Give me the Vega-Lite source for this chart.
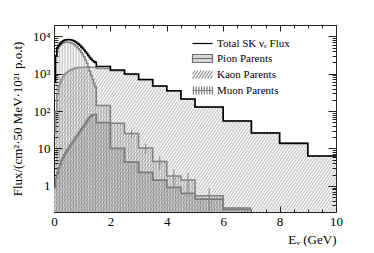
{
"$schema":"https://vega.github.io/schema/vega-lite/v6.json",
"width":282,"height":187,"autosize":"none",
"padding":{"left":54,"top":25,"right":38,"bottom":41},
"background":"white",
"config":{"font":"Liberation Serif","view":{"stroke":null},"axis":{"grid":false,"labelFont":"Liberation Serif","titleFont":"Liberation Serif","labelColor":"#000","titleColor":"#000","labelFontSize":13,"titleFontSize":13,"titleFontWeight":"normal","tickColor":"#222","domainColor":"#222","tickWidth":1,"domainWidth":1,"labelFlush":false,"labelOverlap":false,"zindex":1}},
"datasets":{
"total":[{"e":0,"v":600},{"e":0.05,"v":3000},{"e":0.1,"v":4900},{"e":0.15,"v":5700},{"e":0.2,"v":6450},{"e":0.25,"v":7000},{"e":0.3,"v":7450},{"e":0.35,"v":7800},{"e":0.4,"v":8000},{"e":0.45,"v":8100},{"e":0.5,"v":8150},{"e":0.55,"v":8100},{"e":0.6,"v":7950},{"e":0.65,"v":7700},{"e":0.7,"v":7400},{"e":0.75,"v":7000},{"e":0.8,"v":6600},{"e":0.85,"v":6150},{"e":0.9,"v":5700},{"e":0.95,"v":5200},{"e":1.0,"v":4750},{"e":1.05,"v":4300},{"e":1.1,"v":3850},{"e":1.15,"v":3450},{"e":1.2,"v":3050},{"e":1.25,"v":2700},{"e":1.3,"v":2450},{"e":1.35,"v":2250},{"e":1.4,"v":2100},{"e":1.45,"v":2000},{"e":1.5,"v":1550},{"e":2.0,"v":1250},{"e":2.5,"v":980},{"e":3.0,"v":700},{"e":3.5,"v":468},{"e":4.0,"v":350},{"e":4.5,"v":210},{"e":5.0,"v":128},{"e":6.0,"v":54},{"e":7.0,"v":26},{"e":8.0,"v":13.7},{"e":9.0,"v":6.3},{"e":10.0,"v":6.3}],
"kaon":[{"e":0,"v":25},{"e":0.05,"v":100},{"e":0.1,"v":280},{"e":0.15,"v":450},{"e":0.2,"v":580},{"e":0.25,"v":720},{"e":0.3,"v":830},{"e":0.35,"v":930},{"e":0.4,"v":1030},{"e":0.45,"v":1110},{"e":0.5,"v":1180},{"e":0.55,"v":1240},{"e":0.6,"v":1300},{"e":0.65,"v":1340},{"e":0.7,"v":1380},{"e":0.75,"v":1410},{"e":0.8,"v":1440},{"e":0.85,"v":1455},{"e":0.9,"v":1465},{"e":0.95,"v":1470},{"e":1.0,"v":1475},{"e":1.05,"v":1475},{"e":1.1,"v":1475},{"e":1.15,"v":1475},{"e":1.2,"v":1475},{"e":1.25,"v":1475},{"e":1.3,"v":1475},{"e":1.35,"v":1475},{"e":1.4,"v":1475},{"e":1.45,"v":1475},{"e":1.5,"v":1380},{"e":2.0,"v":1190},{"e":2.5,"v":950},{"e":3.0,"v":685},{"e":3.5,"v":462},{"e":4.0,"v":346},{"e":4.5,"v":208},{"e":5.0,"v":127},{"e":6.0,"v":54},{"e":7.0,"v":26},{"e":8.0,"v":13.7},{"e":9.0,"v":6.3},{"e":10.0,"v":6.3}],
"muon":[{"e":0,"v":574},{"e":0.05,"v":2898},{"e":0.1,"v":4618},{"e":0.15,"v":5247},{"e":0.2,"v":5866},{"e":0.25,"v":6275},{"e":0.3,"v":6614},{"e":0.35,"v":6863},{"e":0.4,"v":6962},{"e":0.45,"v":6981},{"e":0.5,"v":6960},{"e":0.55,"v":6848},{"e":0.6,"v":6637},{"e":0.65,"v":6345},{"e":0.7,"v":6003},{"e":0.75,"v":5570},{"e":0.8,"v":5138},{"e":0.85,"v":4670},{"e":0.9,"v":4206},{"e":0.95,"v":3697},{"e":1.0,"v":3238},{"e":1.05,"v":2783},{"e":1.1,"v":2327},{"e":1.15,"v":1920},{"e":1.2,"v":1513},{"e":1.25,"v":1155},{"e":1.3,"v":899},{"e":1.35,"v":696},{"e":1.4,"v":545},{"e":1.45,"v":445},{"e":1.5,"v":141},{"e":2.0,"v":47},{"e":2.5,"v":25},{"e":3.0,"v":10.3},{"e":3.5,"v":4.5},{"e":4.0,"v":1.84},{"e":4.5,"v":1.43},{"e":5.0,"v":0.54},{"e":6.0,"v":0.256},{"e":7.0,"v":0.256}],
"pion":[{"e":0,"v":0.9},{"e":0.05,"v":1.6},{"e":0.1,"v":2.2},{"e":0.15,"v":3.0},{"e":0.2,"v":3.8},{"e":0.25,"v":4.8},{"e":0.3,"v":5.6},{"e":0.35,"v":6.8},{"e":0.4,"v":8.0},{"e":0.45,"v":9.2},{"e":0.5,"v":10.5},{"e":0.55,"v":12},{"e":0.6,"v":13.5},{"e":0.65,"v":15.5},{"e":0.7,"v":17.5},{"e":0.75,"v":20},{"e":0.8,"v":22.5},{"e":0.85,"v":25.5},{"e":0.9,"v":29},{"e":0.95,"v":33},{"e":1.0,"v":37},{"e":1.05,"v":42},{"e":1.1,"v":48},{"e":1.15,"v":55},{"e":1.2,"v":62},{"e":1.25,"v":70},{"e":1.3,"v":76},{"e":1.35,"v":79},{"e":1.4,"v":80},{"e":1.45,"v":80},{"e":1.5,"v":49},{"e":2.0,"v":10.1},{"e":2.5,"v":4.3},{"e":3.0,"v":2.3},{"e":3.5,"v":1.43},{"e":4.0,"v":0.91},{"e":4.5,"v":0.63},{"e":5.0,"v":0.44},{"e":6.0,"v":0.235},{"e":7.0,"v":0.235}],
"err":[{"e":2.75,"lo":19,"hi":31},{"e":3.25,"lo":7.1,"hi":13.5},{"e":3.75,"lo":2.7,"hi":6.3},{"e":4.25,"lo":0.94,"hi":2.74},{"e":4.75,"lo":0.63,"hi":2.23},{"e":5.5,"lo":0.22,"hi":0.86}]
},
"layer":[
{"data":{"name":"pion"},"mark":{"type":"area","interpolate":"step-after","fill":"#e2e2e2","clip":true},
 "encoding":{"x":{"field":"e","type":"quantitative","scale":{"domain":[0,10],"nice":false,"zero":false},"axis":{"orient":"bottom","values":[0,2,4,6,8,10],"ticks":false,"domain":false,"labelPadding":3,"title":"Eᵥ (GeV)","titleAnchor":"end","titlePadding":5}},
  "y":{"field":"v","type":"quantitative","stack":null,"scale":{"type":"log","domain":[0.2,20000],"nice":false},"axis":{"orient":"left","values":[1,10,100,1000,10000],"ticks":false,"domain":false,"labelPadding":4,"labelExpr":"datum.value==1?'1':datum.value==10?'10':datum.value==100?'10²':datum.value==1000?'10³':'10⁴'","title":"Flux/(cm²·50 MeV·10²¹ p.o.t)","titlePadding":8}},
  "y2":{"datum":0.2}}},
{"data":{"name":"kaon"},"mark":{"type":"area","interpolate":"step-after","clip":true,"fill":{"gradient":"linear","x1":0,"y1":0,"x2":1.2039,"y2":0.4326,"stops":[
{"offset":0,"color":"rgba(0,0,0,.23)"},{"offset":0.004,"color":"rgba(0,0,0,0)"},{"offset":0.008,"color":"rgba(0,0,0,.23)"},{"offset":0.012,"color":"rgba(0,0,0,0)"},{"offset":0.016,"color":"rgba(0,0,0,.23)"},{"offset":0.02,"color":"rgba(0,0,0,0)"},{"offset":0.024,"color":"rgba(0,0,0,.23)"},{"offset":0.028,"color":"rgba(0,0,0,0)"},{"offset":0.032,"color":"rgba(0,0,0,.23)"},{"offset":0.036,"color":"rgba(0,0,0,0)"},{"offset":0.04,"color":"rgba(0,0,0,.23)"},{"offset":0.044,"color":"rgba(0,0,0,0)"},{"offset":0.048,"color":"rgba(0,0,0,.23)"},{"offset":0.052,"color":"rgba(0,0,0,0)"},{"offset":0.056,"color":"rgba(0,0,0,.23)"},{"offset":0.06,"color":"rgba(0,0,0,0)"},{"offset":0.064,"color":"rgba(0,0,0,.23)"},{"offset":0.068,"color":"rgba(0,0,0,0)"},{"offset":0.072,"color":"rgba(0,0,0,.23)"},{"offset":0.076,"color":"rgba(0,0,0,0)"},{"offset":0.08,"color":"rgba(0,0,0,.23)"},{"offset":0.084,"color":"rgba(0,0,0,0)"},{"offset":0.088,"color":"rgba(0,0,0,.23)"},{"offset":0.092,"color":"rgba(0,0,0,0)"},{"offset":0.096,"color":"rgba(0,0,0,.23)"},{"offset":0.1,"color":"rgba(0,0,0,0)"},
{"offset":0.104,"color":"rgba(0,0,0,.23)"},{"offset":0.108,"color":"rgba(0,0,0,0)"},{"offset":0.112,"color":"rgba(0,0,0,.23)"},{"offset":0.116,"color":"rgba(0,0,0,0)"},{"offset":0.12,"color":"rgba(0,0,0,.23)"},{"offset":0.124,"color":"rgba(0,0,0,0)"},{"offset":0.128,"color":"rgba(0,0,0,.23)"},{"offset":0.132,"color":"rgba(0,0,0,0)"},{"offset":0.136,"color":"rgba(0,0,0,.23)"},{"offset":0.14,"color":"rgba(0,0,0,0)"},{"offset":0.144,"color":"rgba(0,0,0,.23)"},{"offset":0.148,"color":"rgba(0,0,0,0)"},{"offset":0.152,"color":"rgba(0,0,0,.23)"},{"offset":0.156,"color":"rgba(0,0,0,0)"},{"offset":0.16,"color":"rgba(0,0,0,.23)"},{"offset":0.164,"color":"rgba(0,0,0,0)"},{"offset":0.168,"color":"rgba(0,0,0,.23)"},{"offset":0.172,"color":"rgba(0,0,0,0)"},{"offset":0.176,"color":"rgba(0,0,0,.23)"},{"offset":0.18,"color":"rgba(0,0,0,0)"},{"offset":0.184,"color":"rgba(0,0,0,.23)"},{"offset":0.188,"color":"rgba(0,0,0,0)"},{"offset":0.192,"color":"rgba(0,0,0,.23)"},{"offset":0.196,"color":"rgba(0,0,0,0)"},{"offset":0.2,"color":"rgba(0,0,0,.23)"},{"offset":0.204,"color":"rgba(0,0,0,0)"},
{"offset":0.208,"color":"rgba(0,0,0,.23)"},{"offset":0.212,"color":"rgba(0,0,0,0)"},{"offset":0.216,"color":"rgba(0,0,0,.23)"},{"offset":0.22,"color":"rgba(0,0,0,0)"},{"offset":0.224,"color":"rgba(0,0,0,.23)"},{"offset":0.228,"color":"rgba(0,0,0,0)"},{"offset":0.232,"color":"rgba(0,0,0,.23)"},{"offset":0.236,"color":"rgba(0,0,0,0)"},{"offset":0.24,"color":"rgba(0,0,0,.23)"},{"offset":0.244,"color":"rgba(0,0,0,0)"},{"offset":0.248,"color":"rgba(0,0,0,.23)"},{"offset":0.252,"color":"rgba(0,0,0,0)"},{"offset":0.256,"color":"rgba(0,0,0,.23)"},{"offset":0.26,"color":"rgba(0,0,0,0)"},{"offset":0.264,"color":"rgba(0,0,0,.23)"},{"offset":0.268,"color":"rgba(0,0,0,0)"},{"offset":0.272,"color":"rgba(0,0,0,.23)"},{"offset":0.276,"color":"rgba(0,0,0,0)"},{"offset":0.28,"color":"rgba(0,0,0,.23)"},{"offset":0.284,"color":"rgba(0,0,0,0)"},{"offset":0.288,"color":"rgba(0,0,0,.23)"},{"offset":0.292,"color":"rgba(0,0,0,0)"},{"offset":0.296,"color":"rgba(0,0,0,.23)"},{"offset":0.3,"color":"rgba(0,0,0,0)"},
{"offset":0.304,"color":"rgba(0,0,0,.23)"},{"offset":0.308,"color":"rgba(0,0,0,0)"},{"offset":0.312,"color":"rgba(0,0,0,.23)"},{"offset":0.316,"color":"rgba(0,0,0,0)"},{"offset":0.32,"color":"rgba(0,0,0,.23)"},{"offset":0.324,"color":"rgba(0,0,0,0)"},{"offset":0.328,"color":"rgba(0,0,0,.23)"},{"offset":0.332,"color":"rgba(0,0,0,0)"},{"offset":0.336,"color":"rgba(0,0,0,.23)"},{"offset":0.34,"color":"rgba(0,0,0,0)"},{"offset":0.344,"color":"rgba(0,0,0,.23)"},{"offset":0.348,"color":"rgba(0,0,0,0)"},{"offset":0.352,"color":"rgba(0,0,0,.23)"},{"offset":0.356,"color":"rgba(0,0,0,0)"},{"offset":0.36,"color":"rgba(0,0,0,.23)"},{"offset":0.364,"color":"rgba(0,0,0,0)"},{"offset":0.368,"color":"rgba(0,0,0,.23)"},{"offset":0.372,"color":"rgba(0,0,0,0)"},{"offset":0.376,"color":"rgba(0,0,0,.23)"},{"offset":0.38,"color":"rgba(0,0,0,0)"},{"offset":0.384,"color":"rgba(0,0,0,.23)"},{"offset":0.388,"color":"rgba(0,0,0,0)"},{"offset":0.392,"color":"rgba(0,0,0,.23)"},{"offset":0.396,"color":"rgba(0,0,0,0)"},{"offset":0.4,"color":"rgba(0,0,0,.23)"},{"offset":0.404,"color":"rgba(0,0,0,0)"},
{"offset":0.408,"color":"rgba(0,0,0,.23)"},{"offset":0.412,"color":"rgba(0,0,0,0)"},{"offset":0.416,"color":"rgba(0,0,0,.23)"},{"offset":0.42,"color":"rgba(0,0,0,0)"},{"offset":0.424,"color":"rgba(0,0,0,.23)"},{"offset":0.428,"color":"rgba(0,0,0,0)"},{"offset":0.432,"color":"rgba(0,0,0,.23)"},{"offset":0.436,"color":"rgba(0,0,0,0)"},{"offset":0.44,"color":"rgba(0,0,0,.23)"},{"offset":0.444,"color":"rgba(0,0,0,0)"},{"offset":0.448,"color":"rgba(0,0,0,.23)"},{"offset":0.452,"color":"rgba(0,0,0,0)"},{"offset":0.456,"color":"rgba(0,0,0,.23)"},{"offset":0.46,"color":"rgba(0,0,0,0)"},{"offset":0.464,"color":"rgba(0,0,0,.23)"},{"offset":0.468,"color":"rgba(0,0,0,0)"},{"offset":0.472,"color":"rgba(0,0,0,.23)"},{"offset":0.476,"color":"rgba(0,0,0,0)"},{"offset":0.48,"color":"rgba(0,0,0,.23)"},{"offset":0.484,"color":"rgba(0,0,0,0)"},{"offset":0.488,"color":"rgba(0,0,0,.23)"},{"offset":0.492,"color":"rgba(0,0,0,0)"},{"offset":0.496,"color":"rgba(0,0,0,.23)"},{"offset":0.5,"color":"rgba(0,0,0,0)"},
{"offset":0.504,"color":"rgba(0,0,0,.23)"},{"offset":0.508,"color":"rgba(0,0,0,0)"},{"offset":0.512,"color":"rgba(0,0,0,.23)"},{"offset":0.516,"color":"rgba(0,0,0,0)"},{"offset":0.52,"color":"rgba(0,0,0,.23)"},{"offset":0.524,"color":"rgba(0,0,0,0)"},{"offset":0.528,"color":"rgba(0,0,0,.23)"},{"offset":0.532,"color":"rgba(0,0,0,0)"},{"offset":0.536,"color":"rgba(0,0,0,.23)"},{"offset":0.54,"color":"rgba(0,0,0,0)"},{"offset":0.544,"color":"rgba(0,0,0,.23)"},{"offset":0.548,"color":"rgba(0,0,0,0)"},{"offset":0.552,"color":"rgba(0,0,0,.23)"},{"offset":0.556,"color":"rgba(0,0,0,0)"},{"offset":0.56,"color":"rgba(0,0,0,.23)"},{"offset":0.564,"color":"rgba(0,0,0,0)"},{"offset":0.568,"color":"rgba(0,0,0,.23)"},{"offset":0.572,"color":"rgba(0,0,0,0)"},{"offset":0.576,"color":"rgba(0,0,0,.23)"},{"offset":0.58,"color":"rgba(0,0,0,0)"},{"offset":0.584,"color":"rgba(0,0,0,.23)"},{"offset":0.588,"color":"rgba(0,0,0,0)"},{"offset":0.592,"color":"rgba(0,0,0,.23)"},{"offset":0.596,"color":"rgba(0,0,0,0)"},{"offset":0.6,"color":"rgba(0,0,0,.23)"},{"offset":0.604,"color":"rgba(0,0,0,0)"},
{"offset":0.608,"color":"rgba(0,0,0,.23)"},{"offset":0.612,"color":"rgba(0,0,0,0)"},{"offset":0.616,"color":"rgba(0,0,0,.23)"},{"offset":0.62,"color":"rgba(0,0,0,0)"},{"offset":0.624,"color":"rgba(0,0,0,.23)"},{"offset":0.628,"color":"rgba(0,0,0,0)"},{"offset":0.632,"color":"rgba(0,0,0,.23)"},{"offset":0.636,"color":"rgba(0,0,0,0)"},{"offset":0.64,"color":"rgba(0,0,0,.23)"},{"offset":0.644,"color":"rgba(0,0,0,0)"},{"offset":0.648,"color":"rgba(0,0,0,.23)"},{"offset":0.652,"color":"rgba(0,0,0,0)"},{"offset":0.656,"color":"rgba(0,0,0,.23)"},{"offset":0.66,"color":"rgba(0,0,0,0)"},{"offset":0.664,"color":"rgba(0,0,0,.23)"},{"offset":0.668,"color":"rgba(0,0,0,0)"},{"offset":0.672,"color":"rgba(0,0,0,.23)"},{"offset":0.676,"color":"rgba(0,0,0,0)"},{"offset":0.68,"color":"rgba(0,0,0,.23)"},{"offset":0.684,"color":"rgba(0,0,0,0)"},{"offset":0.688,"color":"rgba(0,0,0,.23)"},{"offset":0.692,"color":"rgba(0,0,0,0)"},{"offset":0.696,"color":"rgba(0,0,0,.23)"},{"offset":0.7,"color":"rgba(0,0,0,0)"},
{"offset":0.704,"color":"rgba(0,0,0,.23)"},{"offset":0.708,"color":"rgba(0,0,0,0)"},{"offset":0.712,"color":"rgba(0,0,0,.23)"},{"offset":0.716,"color":"rgba(0,0,0,0)"},{"offset":0.72,"color":"rgba(0,0,0,.23)"},{"offset":0.724,"color":"rgba(0,0,0,0)"},{"offset":0.728,"color":"rgba(0,0,0,.23)"},{"offset":0.732,"color":"rgba(0,0,0,0)"},{"offset":0.736,"color":"rgba(0,0,0,.23)"},{"offset":0.74,"color":"rgba(0,0,0,0)"},{"offset":0.744,"color":"rgba(0,0,0,.23)"},{"offset":0.748,"color":"rgba(0,0,0,0)"},{"offset":0.752,"color":"rgba(0,0,0,.23)"},{"offset":0.756,"color":"rgba(0,0,0,0)"},{"offset":0.76,"color":"rgba(0,0,0,.23)"},{"offset":0.764,"color":"rgba(0,0,0,0)"},{"offset":0.768,"color":"rgba(0,0,0,.23)"},{"offset":0.772,"color":"rgba(0,0,0,0)"},{"offset":0.776,"color":"rgba(0,0,0,.23)"},{"offset":0.78,"color":"rgba(0,0,0,0)"},{"offset":0.784,"color":"rgba(0,0,0,.23)"},{"offset":0.788,"color":"rgba(0,0,0,0)"},{"offset":0.792,"color":"rgba(0,0,0,.23)"},{"offset":0.796,"color":"rgba(0,0,0,0)"},{"offset":0.8,"color":"rgba(0,0,0,.23)"},{"offset":0.804,"color":"rgba(0,0,0,0)"},
{"offset":0.808,"color":"rgba(0,0,0,.23)"},{"offset":0.812,"color":"rgba(0,0,0,0)"},{"offset":0.816,"color":"rgba(0,0,0,.23)"},{"offset":0.82,"color":"rgba(0,0,0,0)"},{"offset":0.824,"color":"rgba(0,0,0,.23)"},{"offset":0.828,"color":"rgba(0,0,0,0)"},{"offset":0.832,"color":"rgba(0,0,0,.23)"},{"offset":0.836,"color":"rgba(0,0,0,0)"},{"offset":0.84,"color":"rgba(0,0,0,.23)"},{"offset":0.844,"color":"rgba(0,0,0,0)"},{"offset":0.848,"color":"rgba(0,0,0,.23)"},{"offset":0.852,"color":"rgba(0,0,0,0)"},{"offset":0.856,"color":"rgba(0,0,0,.23)"},{"offset":0.86,"color":"rgba(0,0,0,0)"},{"offset":0.864,"color":"rgba(0,0,0,.23)"},{"offset":0.868,"color":"rgba(0,0,0,0)"},{"offset":0.872,"color":"rgba(0,0,0,.23)"},{"offset":0.876,"color":"rgba(0,0,0,0)"},{"offset":0.88,"color":"rgba(0,0,0,.23)"},{"offset":0.884,"color":"rgba(0,0,0,0)"},{"offset":0.888,"color":"rgba(0,0,0,.23)"},{"offset":0.892,"color":"rgba(0,0,0,0)"},{"offset":0.896,"color":"rgba(0,0,0,.23)"},{"offset":0.9,"color":"rgba(0,0,0,0)"},
{"offset":0.904,"color":"rgba(0,0,0,.23)"},{"offset":0.908,"color":"rgba(0,0,0,0)"},{"offset":0.912,"color":"rgba(0,0,0,.23)"},{"offset":0.916,"color":"rgba(0,0,0,0)"},{"offset":0.92,"color":"rgba(0,0,0,.23)"},{"offset":0.924,"color":"rgba(0,0,0,0)"},{"offset":0.928,"color":"rgba(0,0,0,.23)"},{"offset":0.932,"color":"rgba(0,0,0,0)"},{"offset":0.936,"color":"rgba(0,0,0,.23)"},{"offset":0.94,"color":"rgba(0,0,0,0)"},{"offset":0.944,"color":"rgba(0,0,0,.23)"},{"offset":0.948,"color":"rgba(0,0,0,0)"},{"offset":0.952,"color":"rgba(0,0,0,.23)"},{"offset":0.956,"color":"rgba(0,0,0,0)"},{"offset":0.96,"color":"rgba(0,0,0,.23)"},{"offset":0.964,"color":"rgba(0,0,0,0)"},{"offset":0.968,"color":"rgba(0,0,0,.23)"},{"offset":0.972,"color":"rgba(0,0,0,0)"},{"offset":0.976,"color":"rgba(0,0,0,.23)"},{"offset":0.98,"color":"rgba(0,0,0,0)"},{"offset":0.984,"color":"rgba(0,0,0,.23)"},{"offset":0.988,"color":"rgba(0,0,0,0)"},{"offset":0.992,"color":"rgba(0,0,0,.23)"},{"offset":0.996,"color":"rgba(0,0,0,0)"},{"offset":1,"color":"rgba(0,0,0,.23)"}]}},
 "encoding":{"x":{"field":"e","type":"quantitative","scale":{"domain":[0,10],"nice":false,"zero":false},"axis":{"orient":"bottom","values":[0,2,4,6,8,10],"labels":false,"tickSize":-6,"domain":true,"title":null}},
  "y":{"field":"v","type":"quantitative","stack":null,"scale":{"type":"log","domain":[0.2,20000],"nice":false},"axis":{"orient":"left","values":[1,10,100,1000,10000],"labels":false,"tickSize":-8,"domain":true,"title":null}},
  "y2":{"datum":0.2}}},
{"data":{"name":"muon"},"mark":{"type":"area","interpolate":"step-after","clip":true,"fill":{"gradient":"linear","x1":0,"y1":0,"x2":1,"y2":0,"stops":[
{"offset":0,"color":"rgba(0,0,0,.23)"},{"offset":0.007,"color":"rgba(0,0,0,0)"},{"offset":0.014,"color":"rgba(0,0,0,.23)"},{"offset":0.021,"color":"rgba(0,0,0,0)"},{"offset":0.028,"color":"rgba(0,0,0,.23)"},{"offset":0.035,"color":"rgba(0,0,0,0)"},{"offset":0.042,"color":"rgba(0,0,0,.23)"},{"offset":0.049,"color":"rgba(0,0,0,0)"},{"offset":0.056,"color":"rgba(0,0,0,.23)"},{"offset":0.063,"color":"rgba(0,0,0,0)"},{"offset":0.07,"color":"rgba(0,0,0,.23)"},{"offset":0.077,"color":"rgba(0,0,0,0)"},{"offset":0.084,"color":"rgba(0,0,0,.23)"},{"offset":0.091,"color":"rgba(0,0,0,0)"},{"offset":0.098,"color":"rgba(0,0,0,.23)"},{"offset":0.105,"color":"rgba(0,0,0,0)"},{"offset":0.112,"color":"rgba(0,0,0,.23)"},{"offset":0.119,"color":"rgba(0,0,0,0)"},{"offset":0.126,"color":"rgba(0,0,0,.23)"},{"offset":0.133,"color":"rgba(0,0,0,0)"},{"offset":0.14,"color":"rgba(0,0,0,.23)"},{"offset":0.147,"color":"rgba(0,0,0,0)"},{"offset":0.154,"color":"rgba(0,0,0,.23)"},{"offset":0.161,"color":"rgba(0,0,0,0)"},{"offset":0.168,"color":"rgba(0,0,0,.23)"},{"offset":0.175,"color":"rgba(0,0,0,0)"},{"offset":0.182,"color":"rgba(0,0,0,.23)"},{"offset":0.189,"color":"rgba(0,0,0,0)"},{"offset":0.196,"color":"rgba(0,0,0,.23)"},{"offset":0.203,"color":"rgba(0,0,0,0)"},
{"offset":0.21,"color":"rgba(0,0,0,.23)"},{"offset":0.217,"color":"rgba(0,0,0,0)"},{"offset":0.224,"color":"rgba(0,0,0,.23)"},{"offset":0.231,"color":"rgba(0,0,0,0)"},{"offset":0.238,"color":"rgba(0,0,0,.23)"},{"offset":0.245,"color":"rgba(0,0,0,0)"},{"offset":0.252,"color":"rgba(0,0,0,.23)"},{"offset":0.259,"color":"rgba(0,0,0,0)"},{"offset":0.266,"color":"rgba(0,0,0,.23)"},{"offset":0.273,"color":"rgba(0,0,0,0)"},{"offset":0.28,"color":"rgba(0,0,0,.23)"},{"offset":0.287,"color":"rgba(0,0,0,0)"},{"offset":0.294,"color":"rgba(0,0,0,.23)"},{"offset":0.301,"color":"rgba(0,0,0,0)"},{"offset":0.308,"color":"rgba(0,0,0,.23)"},{"offset":0.315,"color":"rgba(0,0,0,0)"},{"offset":0.322,"color":"rgba(0,0,0,.23)"},{"offset":0.329,"color":"rgba(0,0,0,0)"},{"offset":0.336,"color":"rgba(0,0,0,.23)"},{"offset":0.343,"color":"rgba(0,0,0,0)"},{"offset":0.35,"color":"rgba(0,0,0,.23)"},{"offset":0.357,"color":"rgba(0,0,0,0)"},{"offset":0.364,"color":"rgba(0,0,0,.23)"},{"offset":0.371,"color":"rgba(0,0,0,0)"},{"offset":0.378,"color":"rgba(0,0,0,.23)"},{"offset":0.385,"color":"rgba(0,0,0,0)"},{"offset":0.392,"color":"rgba(0,0,0,.23)"},{"offset":0.399,"color":"rgba(0,0,0,0)"},
{"offset":0.406,"color":"rgba(0,0,0,.23)"},{"offset":0.413,"color":"rgba(0,0,0,0)"},{"offset":0.42,"color":"rgba(0,0,0,.23)"},{"offset":0.427,"color":"rgba(0,0,0,0)"},{"offset":0.434,"color":"rgba(0,0,0,.23)"},{"offset":0.441,"color":"rgba(0,0,0,0)"},{"offset":0.448,"color":"rgba(0,0,0,.23)"},{"offset":0.455,"color":"rgba(0,0,0,0)"},{"offset":0.462,"color":"rgba(0,0,0,.23)"},{"offset":0.469,"color":"rgba(0,0,0,0)"},{"offset":0.476,"color":"rgba(0,0,0,.23)"},{"offset":0.483,"color":"rgba(0,0,0,0)"},{"offset":0.49,"color":"rgba(0,0,0,.23)"},{"offset":0.497,"color":"rgba(0,0,0,0)"},{"offset":0.504,"color":"rgba(0,0,0,.23)"},{"offset":0.511,"color":"rgba(0,0,0,0)"},{"offset":0.518,"color":"rgba(0,0,0,.23)"},{"offset":0.525,"color":"rgba(0,0,0,0)"},{"offset":0.532,"color":"rgba(0,0,0,.23)"},{"offset":0.539,"color":"rgba(0,0,0,0)"},{"offset":0.546,"color":"rgba(0,0,0,.23)"},{"offset":0.553,"color":"rgba(0,0,0,0)"},{"offset":0.56,"color":"rgba(0,0,0,.23)"},{"offset":0.567,"color":"rgba(0,0,0,0)"},{"offset":0.574,"color":"rgba(0,0,0,.23)"},{"offset":0.581,"color":"rgba(0,0,0,0)"},{"offset":0.588,"color":"rgba(0,0,0,.23)"},{"offset":0.595,"color":"rgba(0,0,0,0)"},
{"offset":0.602,"color":"rgba(0,0,0,.23)"},{"offset":0.609,"color":"rgba(0,0,0,0)"},{"offset":0.616,"color":"rgba(0,0,0,.23)"},{"offset":0.623,"color":"rgba(0,0,0,0)"},{"offset":0.63,"color":"rgba(0,0,0,.23)"},{"offset":0.637,"color":"rgba(0,0,0,0)"},{"offset":0.644,"color":"rgba(0,0,0,.23)"},{"offset":0.651,"color":"rgba(0,0,0,0)"},{"offset":0.658,"color":"rgba(0,0,0,.23)"},{"offset":0.665,"color":"rgba(0,0,0,0)"},{"offset":0.672,"color":"rgba(0,0,0,.23)"},{"offset":0.679,"color":"rgba(0,0,0,0)"},{"offset":0.686,"color":"rgba(0,0,0,.23)"},{"offset":0.693,"color":"rgba(0,0,0,0)"},{"offset":0.7,"color":"rgba(0,0,0,.23)"},{"offset":0.707,"color":"rgba(0,0,0,0)"},{"offset":0.714,"color":"rgba(0,0,0,.23)"},{"offset":0.721,"color":"rgba(0,0,0,0)"},{"offset":0.728,"color":"rgba(0,0,0,.23)"},{"offset":0.735,"color":"rgba(0,0,0,0)"},{"offset":0.742,"color":"rgba(0,0,0,.23)"},{"offset":0.749,"color":"rgba(0,0,0,0)"},{"offset":0.756,"color":"rgba(0,0,0,.23)"},{"offset":0.763,"color":"rgba(0,0,0,0)"},{"offset":0.77,"color":"rgba(0,0,0,.23)"},{"offset":0.777,"color":"rgba(0,0,0,0)"},{"offset":0.784,"color":"rgba(0,0,0,.23)"},{"offset":0.791,"color":"rgba(0,0,0,0)"},{"offset":0.798,"color":"rgba(0,0,0,.23)"},
{"offset":0.805,"color":"rgba(0,0,0,0)"},{"offset":0.812,"color":"rgba(0,0,0,.23)"},{"offset":0.819,"color":"rgba(0,0,0,0)"},{"offset":0.826,"color":"rgba(0,0,0,.23)"},{"offset":0.833,"color":"rgba(0,0,0,0)"},{"offset":0.84,"color":"rgba(0,0,0,.23)"},{"offset":0.847,"color":"rgba(0,0,0,0)"},{"offset":0.854,"color":"rgba(0,0,0,.23)"},{"offset":0.861,"color":"rgba(0,0,0,0)"},{"offset":0.868,"color":"rgba(0,0,0,.23)"},{"offset":0.875,"color":"rgba(0,0,0,0)"},{"offset":0.882,"color":"rgba(0,0,0,.23)"},{"offset":0.889,"color":"rgba(0,0,0,0)"},{"offset":0.896,"color":"rgba(0,0,0,.23)"},{"offset":0.903,"color":"rgba(0,0,0,0)"},{"offset":0.91,"color":"rgba(0,0,0,.23)"},{"offset":0.917,"color":"rgba(0,0,0,0)"},{"offset":0.924,"color":"rgba(0,0,0,.23)"},{"offset":0.931,"color":"rgba(0,0,0,0)"},{"offset":0.938,"color":"rgba(0,0,0,.23)"},{"offset":0.945,"color":"rgba(0,0,0,0)"},{"offset":0.952,"color":"rgba(0,0,0,.23)"},{"offset":0.959,"color":"rgba(0,0,0,0)"},{"offset":0.966,"color":"rgba(0,0,0,.23)"},{"offset":0.973,"color":"rgba(0,0,0,0)"},{"offset":0.98,"color":"rgba(0,0,0,.23)"},{"offset":0.987,"color":"rgba(0,0,0,0)"},{"offset":0.994,"color":"rgba(0,0,0,.23)"},{"offset":1,"color":"rgba(0,0,0,0)"}]}},
 "encoding":{"x":{"field":"e","type":"quantitative","scale":{"domain":[0,10],"nice":false,"zero":false},"axis":{"orient":"bottom","values":[0.5,1,1.5,2.5,3,3.5,4.5,5,5.5,6.5,7,7.5,8.5,9,9.5],"labels":false,"tickSize":-3,"domain":false,"title":null}},
  "y":{"field":"v","type":"quantitative","stack":null,"scale":{"type":"log","domain":[0.2,20000],"nice":false},"axis":{"orient":"left","values":[0.3,0.4,0.5,0.6,0.7,0.8,0.9,2,3,4,5,6,7,8,9,20,30,40,50,60,70,80,90,200,300,400,500,600,700,800,900,2000,3000,4000,5000,6000,7000,8000,9000],"labels":false,"tickSize":-4,"domain":false,"title":null}},
  "y2":{"datum":0.2}}},
{"data":{"name":"pion"},"mark":{"type":"line","interpolate":"step-after","stroke":"#7c7c7c","strokeWidth":1.8,"clip":true},
 "encoding":{"x":{"field":"e","type":"quantitative","scale":{"domain":[0,10],"nice":false,"zero":false},"axis":{"orient":"top","values":[0,2,4,6,8,10],"labels":false,"tickSize":-6,"domain":true,"title":null}},
  "y":{"field":"v","type":"quantitative","scale":{"type":"log","domain":[0.2,20000],"nice":false},"axis":{"orient":"right","values":[1,10,100,1000,10000],"labels":false,"tickSize":-8,"domain":true,"title":null}}}},
{"data":{"name":"kaon"},"mark":{"type":"line","interpolate":"step-after","stroke":"#8c8c8c","strokeWidth":1.5,"clip":true},
 "encoding":{"x":{"field":"e","type":"quantitative","scale":{"domain":[0,10],"nice":false,"zero":false},"axis":{"orient":"top","values":[0.5,1,1.5,2.5,3,3.5,4.5,5,5.5,6.5,7,7.5,8.5,9,9.5],"labels":false,"tickSize":-3,"domain":false,"title":null}},
  "y":{"field":"v","type":"quantitative","scale":{"type":"log","domain":[0.2,20000],"nice":false},"axis":{"orient":"right","values":[0.3,0.4,0.5,0.6,0.7,0.8,0.9,2,3,4,5,6,7,8,9,20,30,40,50,60,70,80,90,200,300,400,500,600,700,800,900,2000,3000,4000,5000,6000,7000,8000,9000],"labels":false,"tickSize":-4,"domain":false,"title":null}}}},
{"data":{"name":"muon"},"mark":{"type":"line","interpolate":"step-after","stroke":"#808080","strokeWidth":1.5,"clip":true},
 "encoding":{"x":{"field":"e","type":"quantitative","scale":{"domain":[0,10],"nice":false,"zero":false},"axis":null},
  "y":{"field":"v","type":"quantitative","scale":{"type":"log","domain":[0.2,20000],"nice":false},"axis":null}}},
{"data":{"name":"err"},"mark":{"type":"rule","stroke":"#808080","strokeWidth":1,"clip":true},
 "encoding":{"x":{"field":"e","type":"quantitative","scale":{"domain":[0,10],"nice":false,"zero":false},"axis":null},
  "y":{"field":"lo","type":"quantitative","scale":{"type":"log","domain":[0.2,20000],"nice":false},"axis":null},"y2":{"field":"hi"}}},
{"data":{"name":"total"},"mark":{"type":"line","interpolate":"step-after","stroke":"#000","strokeWidth":1.6,"clip":true},
 "encoding":{"x":{"field":"e","type":"quantitative","scale":{"domain":[0,10],"nice":false,"zero":false},"axis":null},
  "y":{"field":"v","type":"quantitative","scale":{"type":"log","domain":[0.2,20000],"nice":false},"axis":null}}},
{"data":{"values":[]},"mark":{"type":"point","opacity":1,"size":225},
 "encoding":{
  "shape":{"field":"s","type":"nominal","scale":{"domain":["Total SK νₑ Flux","Pion Parents","Kaon Parents","Muon Parents"],"range":["M-1.333,0H1.333","M-1.333,-0.533H1.333V0.533H-1.333ZM-1.333,0H1.333","M-1.333,-0.037L-0.986,-0.533M-1.333,0.533L-0.586,-0.533M-0.933,0.533L-0.186,-0.533M-0.533,0.533L0.214,-0.533M-0.133,0.533L0.614,-0.533M0.267,0.533L1.014,-0.533M0.667,0.533L1.333,-0.418M1.067,0.533L1.333,0.152","M-1.333,0H1.333M-1.2,-0.533V0.533M-0.84,-0.533V0.533M-0.48,-0.533V0.533M-0.12,-0.533V0.533M0.24,-0.533V0.533M0.6,-0.533V0.533M0.96,-0.533V0.533M1.32,-0.533V0.533"]},"legend":{"orient":"none","legendX":140,"legendY":10,"title":null,"labelFont":"Liberation Serif","labelFontSize":11,"labelColor":"#000","symbolSize":225,"symbolStrokeWidth":1.2,"labelOffset":6,"rowPadding":1,"padding":0}},
  "fill":{"field":"s","type":"nominal","scale":{"domain":["Total SK νₑ Flux","Pion Parents","Kaon Parents","Muon Parents"],"range":["transparent","#d6d6d6","transparent","transparent"]},"legend":{"orient":"none","legendX":140,"legendY":10,"title":null,"labelFont":"Liberation Serif","labelFontSize":11,"labelColor":"#000","symbolSize":225,"symbolStrokeWidth":1.2,"labelOffset":6,"rowPadding":1,"padding":0}},
  "stroke":{"field":"s","type":"nominal","scale":{"domain":["Total SK νₑ Flux","Pion Parents","Kaon Parents","Muon Parents"],"range":["#000","#707070","#8c8c8c","#7a7a7a"]},"legend":{"orient":"none","legendX":140,"legendY":10,"title":null,"labelFont":"Liberation Serif","labelFontSize":11,"labelColor":"#000","symbolSize":225,"symbolStrokeWidth":1.2,"labelOffset":6,"rowPadding":1,"padding":0}}}}
],
"resolve":{"axis":{"x":"independent","y":"independent"}}
}
